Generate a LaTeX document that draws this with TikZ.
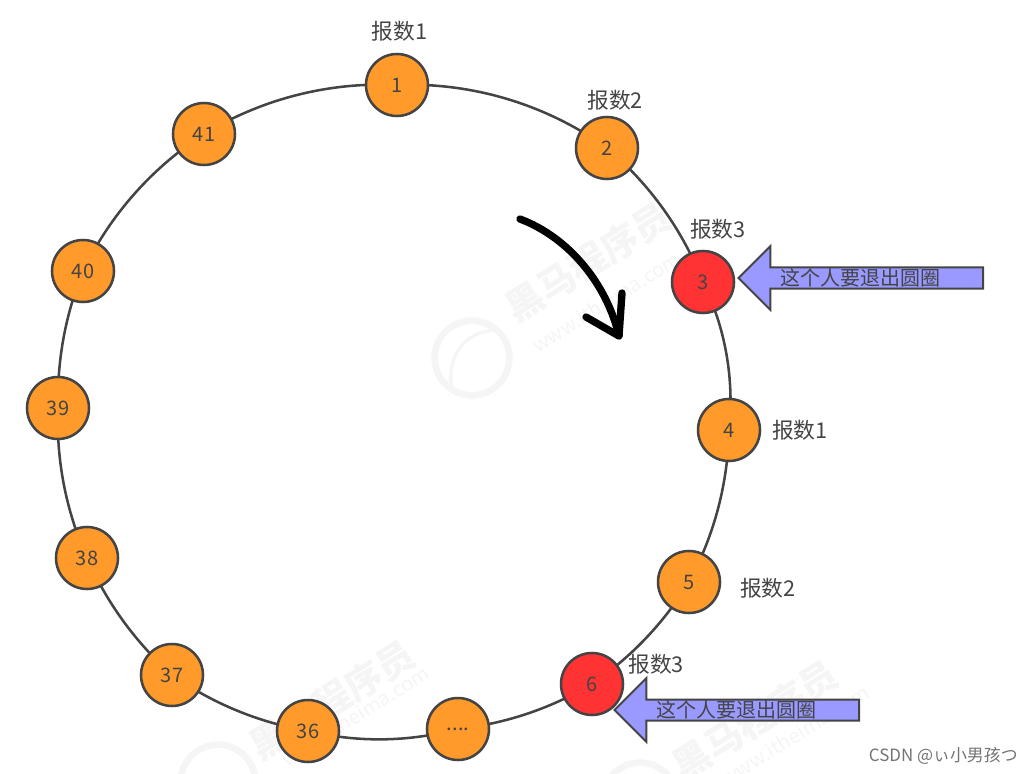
\documentclass[tikz,border=0pt]{standalone}
\usepackage{fontspec}
\setmainfont{Noto Sans CJK SC}
\usetikzlibrary{arrows.meta,positioning,shapes.arrows,backgrounds}
\definecolor{ringline}{HTML}{444444}
\definecolor{personfill}{HTML}{FF9A2B}
\definecolor{outfill}{HTML}{FF3333}
\definecolor{leavefill}{HTML}{9999FF}
\definecolor{wmarkgray}{HTML}{F5F5F5}

\begin{document}
\begin{tikzpicture}[
    x=0.75pt, y=-0.75pt,
    node distance=6pt,
    person/.style={circle, draw=ringline, line width=1.9pt, fill=personfill, minimum size=46.5pt, inner sep=0pt, text=ringline, font=\fontsize{15}{17}\selectfont},
    personout/.style={person, fill=outfill},
    tag/.style={inner sep=0pt, text=ringline, font=\fontsize{16.3}{18}\selectfont},
    ringarc/.style={draw=ringline, line width=1.9pt, looseness=0.875},
    leave/.style={shape=single arrow, shape border rotate=180, draw=ringline, line width=1.5pt, fill=leavefill, minimum height=183.5pt, minimum width=48pt, single arrow head extend=15.75pt, inner sep=0pt, text=ringline, font=\fontsize{15}{16}\selectfont, anchor=tip},
    wmark/.style={inner sep=0pt, text=wmarkgray, rotate=32, font=\fontsize{28}{30}\selectfont\bfseries},
    wurl/.style={inner sep=0pt, text=wmarkgray, rotate=32, font=\fontsize{15}{17}\selectfont},
    wlogo/.style={circle, draw=wmarkgray, line width=5pt, minimum size=56pt, inner sep=0pt}
]
\useasboundingbox (0,0) rectangle (1032,774);
% people on the ring
\node[person] (n1) at (397,85) {1};
\node[person] (n2) at (607,148) {2};
\node[personout] (n3) at (703,282) {3};
\node[person] (n4) at (729,430) {4};
\node[person] (n5) at (689,582) {5};
\node[personout] (n6) at (592,684) {6};
\node[person] (ndots) at (458,729) {....};
\node[person] (n36) at (308,731) {36};
\node[person] (n37) at (172,675) {37};
\node[person] (n38) at (87,558) {38};
\node[person] (n39) at (58,408) {39};
\node[person] (n40) at (83,271) {40};
\node[person] (n41) at (204,134) {41};
\begin{pgfonlayer}{background}
% watermark
\node[wlogo] (logo1) at (472,358) {};
\node[wlogo] (logo2) at (218,782) {};
\node[wlogo] (logo3) at (640,800) {};
\node[wmark] (mark1) at (588,262) {黑马程序员};
\node[wurl] (url1) at (606,302) {www.itheima.com};
\node[wmark] (mark2) at (332,700) {黑马程序员};
\node[wurl] (url2) at (355,716) {www.itheima.com};
\node[wmark] (mark3) at (755,720) {黑马程序员};
\node[wurl] (url3) at (795,735) {www.itheima.com};
\coordinate (flame1) at (452,392);
\coordinate (flame2) at (498,330);
\draw[wmarkgray, line width=2.5pt] (flame1) .. controls (445,350) and (470,330) .. (flame2);
\foreach \a/\b/\bend in {n1/n2/19,n2/n3/14,n3/n4/16,n4/n5/13.5,n5/n6/12,n6/ndots/12,ndots/n36/14,n36/n37/12.5,n37/n38/12,n38/n39/13,n39/n40/11.5,n40/n41/15.5,n41/n1/17}
    \draw[ringarc] (\a.center) to[bend left=\bend] (\b.center);
\end{pgfonlayer}
% counting labels
\node[tag, above=8pt of n1, xshift=2pt] (c1) {报数1};
\node[tag, above right=11pt and -32pt of n2] (c2) {报数2};
\node[tag, above right=15pt and -27pt of n3] (c3) {报数3};
\node[tag, right=8pt of n4] (c4) {报数1};
\node[tag, right=14pt of n5, yshift=-5pt] (c5) {报数2};
\node[tag, above right=-10pt and 2pt of n6, xshift=8pt] (c6) {报数3};
% leaving arrows
\node[leave] (out1) at (737,278) {这个人要退出圆圈\kern8pt};
\node[leave] (out2) at (613,710) {这个人要退出圆圈\kern8pt};
% direction arrow
\coordinate (turn1) at (520,219);
\coordinate (turn2) at (619,336);
\coordinate (head1) at (622,293);
\coordinate (head2) at (586,317);
\draw[line width=5.5pt, line cap=round, line join=round] (turn1) .. controls (570,238) and (607,285) .. (turn2);
\draw[line width=5.5pt, line cap=round, line join=round] (head1) -- (turn2) -- (head2);
% source mark
\node[inner sep=0pt, text=black!55, anchor=east, font=\fontsize{12.7}{14}\selectfont] (csdn) at (1018,756) {CSDN @ぃ小男孩つ};
\end{tikzpicture}
\end{document}
